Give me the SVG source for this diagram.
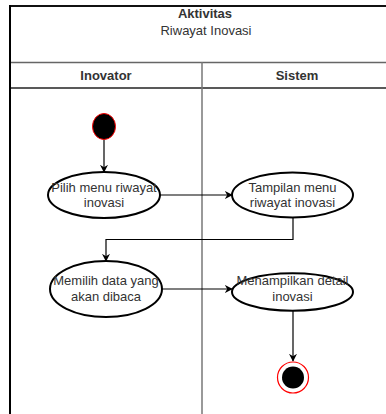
<svg xmlns="http://www.w3.org/2000/svg" width="386" height="414" viewBox="0 0 386 414">
<style>
text{font-family:"Liberation Sans",Arial,sans-serif;font-size:13px;fill:#333;text-anchor:middle}
.b{font-weight:bold}
.act{fill:#fff;stroke:#000;stroke-width:2}
.con{fill:none;stroke:#000;stroke-width:1.2}
</style>
<defs>
<marker id="ah" viewBox="0 0 10 10" refX="9" refY="5" markerWidth="8" markerHeight="8" markerUnits="userSpaceOnUse" orient="auto">
<path d="M0,0 L10,5 L0,10 L3,5 Z" fill="#000"/>
</marker>
</defs>
<rect width="386" height="414" fill="#fff"/>
<g id="pool">
<line x1="9" y1="6" x2="386" y2="6" stroke="#111" stroke-width="2"/>
<line x1="10" y1="62.5" x2="386" y2="62.5" stroke="#666" stroke-width="1.5"/>
<line x1="10" y1="88" x2="386" y2="88" stroke="#222" stroke-width="1.5"/>
<line x1="202" y1="62" x2="202" y2="414" stroke="#777" stroke-width="1.5"/>
<line x1="10" y1="5" x2="10" y2="414" stroke="#000" stroke-width="2"/>
<text class="b" x="205" y="18">Aktivitas</text>
<text x="206" y="35">Riwayat Inovasi</text>
<text class="b" x="106" y="80">Inovator</text>
<text class="b" x="297" y="80">Sistem</text>
</g>
<g id="connectors">
<line class="con" x1="104" y1="139" x2="104" y2="172" marker-end="url(#ah)"/>
<line class="con" x1="160" y1="195" x2="232" y2="195" marker-end="url(#ah)"/>
<polyline class="con" points="293,218 293,239.5 106,239.5 106,261" marker-end="url(#ah)"/>
<line class="con" x1="162" y1="289" x2="232" y2="289" marker-end="url(#ah)"/>
<line class="con" x1="293" y1="311" x2="293" y2="361" marker-end="url(#ah)"/>
</g>
<g id="start">
<ellipse cx="104" cy="126.5" rx="11.5" ry="13" fill="#000" stroke="#f00" stroke-width="1"/>
</g>
<g id="a1">
<ellipse class="act" cx="104" cy="195" rx="56" ry="23"/>
<text x="104" y="192">Pilih menu riwayat</text>
<text x="104" y="207">inovasi</text>
</g>
<g id="a2">
<ellipse class="act" cx="292.5" cy="195" rx="60.5" ry="22.5"/>
<text x="292.5" y="192">Tampilan menu</text>
<text x="292.5" y="207">riwayat inovasi</text>
</g>
<g id="a3">
<ellipse class="act" cx="106" cy="289" rx="56" ry="28"/>
<text x="106" y="285">Memilih data yang</text>
<text x="106" y="301">akan dibaca</text>
</g>
<g id="a4">
<ellipse class="act" cx="292.5" cy="292" rx="60.5" ry="18.7"/>
<text x="292.5" y="285">Menampilkan detail</text>
<text x="292.5" y="301">inovasi</text>
</g>
<g id="end">
<circle cx="293" cy="377.5" r="15.5" fill="#fff" stroke="#f00" stroke-width="1.2"/>
<circle cx="293" cy="377.5" r="11" fill="#000"/>
</g>
</svg>
